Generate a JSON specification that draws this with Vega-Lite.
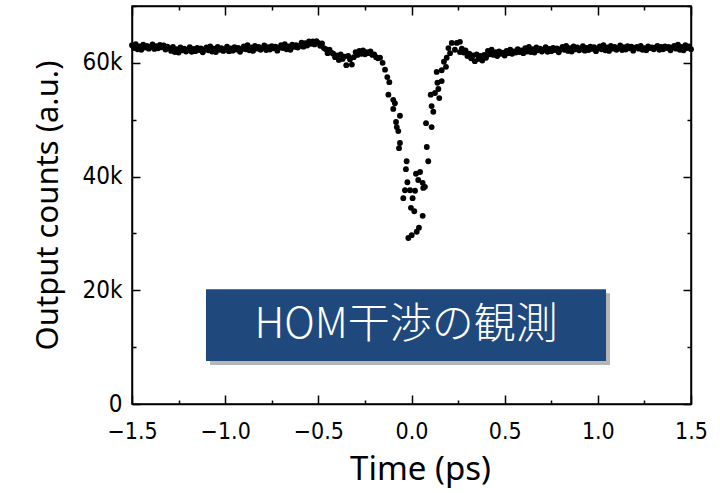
{
  "$schema": "https://vega.github.io/schema/vega-lite/v6.json",
  "width": 559,
  "height": 398,
  "autosize": {"type": "none"},
  "padding": {"left": 132, "top": 6, "right": 29, "bottom": 89},
  "background": "white",
  "config": {
    "view": {"stroke": "black", "strokeWidth": 1.5},
    "axis": {
      "grid": false,
      "domainColor": "black",
      "domainWidth": 1.5,
      "tickColor": "black",
      "tickWidth": 1.5,
      "labelColor": "black",
      "titleColor": "black",
      "labelFont": "DejaVu Sans Condensed, Liberation Sans",
      "labelFontSize": 23,
      "titleFont": "Noto Sans",
      "titleFontSize": 32,
      "titleFontWeight": "normal",
      "labelFlush": false,
      "labelOverlap": false,
      "labelBound": false
    }
  },
  "datasets": {
    "hom": [
      {"t":-1.50,"c":63100},{"t":-1.49,"c":62600},{"t":-1.48,"c":63300},{"t":-1.47,"c":62400},{"t":-1.46,"c":62900},{"t":-1.45,"c":62300},{"t":-1.44,"c":63200},{"t":-1.43,"c":62700},{"t":-1.42,"c":63000},{"t":-1.41,"c":62500},
      {"t":-1.40,"c":62800},{"t":-1.39,"c":63250},{"t":-1.38,"c":62450},{"t":-1.37,"c":62950},{"t":-1.36,"c":62550},{"t":-1.35,"c":63150},{"t":-1.34,"c":62750},{"t":-1.33,"c":63050},{"t":-1.32,"c":62350},{"t":-1.31,"c":62850},
      {"t":-1.30,"c":62600},{"t":-1.29,"c":62100},{"t":-1.28,"c":62800},{"t":-1.27,"c":61900},{"t":-1.26,"c":62400},{"t":-1.25,"c":61800},{"t":-1.24,"c":62700},{"t":-1.23,"c":62200},{"t":-1.22,"c":62500},{"t":-1.21,"c":62000},
      {"t":-1.20,"c":62300},{"t":-1.19,"c":62750},{"t":-1.18,"c":61950},{"t":-1.17,"c":62450},{"t":-1.16,"c":62050},{"t":-1.15,"c":62650},{"t":-1.14,"c":62250},{"t":-1.13,"c":62550},{"t":-1.12,"c":61850},{"t":-1.11,"c":62350},
      {"t":-1.10,"c":62700},{"t":-1.09,"c":62200},{"t":-1.08,"c":62900},{"t":-1.07,"c":62000},{"t":-1.06,"c":62500},{"t":-1.05,"c":61900},{"t":-1.04,"c":62800},{"t":-1.03,"c":62300},{"t":-1.02,"c":62600},{"t":-1.01,"c":62100},
      {"t":-1.00,"c":62400},{"t":-0.99,"c":62850},{"t":-0.98,"c":62050},{"t":-0.97,"c":62550},{"t":-0.96,"c":62150},{"t":-0.95,"c":62750},{"t":-0.94,"c":62350},{"t":-0.93,"c":62650},{"t":-0.92,"c":61950},{"t":-0.91,"c":62450},
      {"t":-0.90,"c":62900},{"t":-0.89,"c":62400},{"t":-0.88,"c":63100},{"t":-0.87,"c":62200},{"t":-0.86,"c":62700},{"t":-0.85,"c":62100},{"t":-0.84,"c":63000},{"t":-0.83,"c":62500},{"t":-0.82,"c":62800},{"t":-0.81,"c":62300},
      {"t":-0.80,"c":62600},{"t":-0.79,"c":63050},{"t":-0.78,"c":62250},{"t":-0.77,"c":62750},{"t":-0.76,"c":62350},{"t":-0.75,"c":62950},{"t":-0.74,"c":62550},{"t":-0.73,"c":62850},{"t":-0.72,"c":62150},{"t":-0.71,"c":62650},
      {"t":-0.70,"c":63100},{"t":-0.69,"c":62600},{"t":-0.68,"c":63300},{"t":-0.67,"c":62400},{"t":-0.66,"c":62900},{"t":-0.65,"c":62300},{"t":-0.64,"c":63200},{"t":-0.63,"c":62800},{"t":-0.62,"c":63100},{"t":-0.61,"c":62700},
      {"t":-0.60,"c":63000},{"t":-0.59,"c":63550},{"t":-0.58,"c":62850},{"t":-0.57,"c":63450},{"t":-0.56,"c":63050},{"t":-0.55,"c":63750},{"t":-0.54,"c":63350},{"t":-0.53,"c":63750},{"t":-0.52,"c":63250},{"t":-0.51,"c":63800},
      {"t":-0.50,"c":63500},{"t":-0.49,"c":63000},{"t":-0.48,"c":63400},{"t":-0.47,"c":62600},{"t":-0.46,"c":62400},{"t":-0.45,"c":61700},{"t":-0.44,"c":62300},{"t":-0.43,"c":61800},{"t":-0.42,"c":61600},{"t":-0.41,"c":61000},
      {"t":-0.40,"c":61300},{"t":-0.39,"c":60500},{"t":-0.38,"c":61500},{"t":-0.37,"c":60700},{"t":-0.36,"c":61100},{"t":-0.35,"c":59600},{"t":-0.34,"c":61200},{"t":-0.33,"c":60600},{"t":-0.32,"c":59700},{"t":-0.31,"c":61000},
      {"t":-0.30,"c":61900},{"t":-0.29,"c":61400},{"t":-0.28,"c":62100},{"t":-0.27,"c":61600},{"t":-0.26,"c":62200},{"t":-0.25,"c":61500},{"t":-0.24,"c":61900},{"t":-0.23,"c":61700},{"t":-0.22,"c":62000},{"t":-0.21,"c":61400},
      {"t":-0.20,"c":61500},{"t":-0.19,"c":61000},{"t":-0.18,"c":60800},
      {"t":-0.169,"c":60900},{"t":-0.155,"c":60000},{"t":-0.142,"c":58800},{"t":-0.130,"c":57500},{"t":-0.124,"c":54400},{"t":-0.119,"c":56600},
      {"t":-0.098,"c":53500},{"t":-0.098,"c":51900},{"t":-0.089,"c":52900},{"t":-0.083,"c":49600},{"t":-0.079,"c":48700},{"t":-0.071,"c":48000},
      {"t":-0.067,"c":45000},{"t":-0.062,"c":50700},{"t":-0.062,"c":45900},{"t":-0.044,"c":36200},{"t":-0.035,"c":37600},{"t":-0.030,"c":41300},
      {"t":-0.026,"c":42700},{"t":-0.022,"c":39000},{"t":-0.017,"c":29200},{"t":-0.008,"c":37600},{"t":-0.003,"c":34500},{"t":0.001,"c":29700},
      {"t":0.006,"c":36200},{"t":0.015,"c":33900},{"t":0.019,"c":37500},{"t":0.024,"c":40500},{"t":0.028,"c":30300},{"t":0.036,"c":39400},
      {"t":0.040,"c":31000},{"t":0.046,"c":40800},{"t":0.060,"c":33100},{"t":0.060,"c":38900},{"t":0.063,"c":38000},{"t":0.072,"c":38200},
      {"t":0.078,"c":49400},{"t":0.082,"c":45200},{"t":0.090,"c":42700},{"t":0.103,"c":54400},{"t":0.108,"c":48700},{"t":0.108,"c":52400},
      {"t":0.117,"c":51400},{"t":0.126,"c":54700},{"t":0.135,"c":58400},{"t":0.139,"c":56500},{"t":0.144,"c":55400},{"t":0.149,"c":53800},
      {"t":0.162,"c":56800},{"t":0.162,"c":58700},{"t":0.174,"c":60200},{"t":0.185,"c":59300},{"t":0.189,"c":60900},{"t":0.198,"c":62600},
      {"t":0.207,"c":61700},{"t":0.216,"c":63500},{"t":0.233,"c":62300},{"t":0.243,"c":63500},{"t":0.260,"c":63700},{"t":0.260,"c":61900},
      {"t":0.27,"c":62500},{"t":0.28,"c":61800},{"t":0.29,"c":62200},{"t":0.30,"c":61200},{"t":0.31,"c":61600},{"t":0.32,"c":60800},{"t":0.33,"c":61300},{"t":0.34,"c":60300},{"t":0.35,"c":61500},{"t":0.36,"c":60700},
      {"t":0.37,"c":61200},{"t":0.38,"c":60400},{"t":0.39,"c":61400},{"t":0.40,"c":60900},
      {"t":0.41,"c":62100},{"t":0.42,"c":61500},{"t":0.43,"c":62300},{"t":0.44,"c":61400},{"t":0.45,"c":61900},{"t":0.46,"c":61200},{"t":0.47,"c":62000},{"t":0.48,"c":61600},{"t":0.49,"c":61800},{"t":0.50,"c":61300},
      {"t":0.51,"c":62100},{"t":0.52,"c":61700},{"t":0.53,"c":62300},{"t":0.54,"c":61600},{"t":0.55,"c":62000},{"t":0.56,"c":61800},{"t":0.57,"c":62400},{"t":0.58,"c":61900},{"t":0.59,"c":62200},{"t":0.60,"c":61700},
      {"t":0.61,"c":62600},{"t":0.62,"c":62000},{"t":0.63,"c":62800},{"t":0.64,"c":61900},{"t":0.65,"c":62400},{"t":0.66,"c":61800},{"t":0.67,"c":62700},{"t":0.68,"c":62200},{"t":0.69,"c":62500},{"t":0.70,"c":62000},
      {"t":0.71,"c":62300},{"t":0.72,"c":62750},{"t":0.73,"c":61950},{"t":0.74,"c":62450},{"t":0.75,"c":62050},{"t":0.76,"c":62650},{"t":0.77,"c":62250},{"t":0.78,"c":62550},{"t":0.79,"c":61850},{"t":0.80,"c":62350},
      {"t":0.81,"c":62800},{"t":0.82,"c":62300},{"t":0.83,"c":63000},{"t":0.84,"c":62100},{"t":0.85,"c":62600},{"t":0.86,"c":62000},{"t":0.87,"c":62900},{"t":0.88,"c":62400},{"t":0.89,"c":62700},{"t":0.90,"c":62200},
      {"t":0.91,"c":62500},{"t":0.92,"c":62950},{"t":0.93,"c":62150},{"t":0.94,"c":62650},{"t":0.95,"c":62250},{"t":0.96,"c":62850},{"t":0.97,"c":62450},{"t":0.98,"c":62750},{"t":0.99,"c":62050},{"t":1.00,"c":62550},
      {"t":1.01,"c":62900},{"t":1.02,"c":62400},{"t":1.03,"c":63100},{"t":1.04,"c":62200},{"t":1.05,"c":62700},{"t":1.06,"c":62100},{"t":1.07,"c":63000},{"t":1.08,"c":62500},{"t":1.09,"c":62800},{"t":1.10,"c":62300},
      {"t":1.11,"c":62600},{"t":1.12,"c":63050},{"t":1.13,"c":62250},{"t":1.14,"c":62750},{"t":1.15,"c":62350},{"t":1.16,"c":62950},{"t":1.17,"c":62550},{"t":1.18,"c":62850},{"t":1.19,"c":62150},{"t":1.20,"c":62650},
      {"t":1.21,"c":62800},{"t":1.22,"c":62500},{"t":1.23,"c":63000},{"t":1.24,"c":62300},{"t":1.25,"c":62600},{"t":1.26,"c":62200},{"t":1.27,"c":62900},{"t":1.28,"c":62600},{"t":1.29,"c":62700},{"t":1.30,"c":62400},
      {"t":1.31,"c":62700},{"t":1.32,"c":63000},{"t":1.33,"c":62300},{"t":1.34,"c":62800},{"t":1.35,"c":62400},{"t":1.36,"c":62900},{"t":1.37,"c":62600},{"t":1.38,"c":62800},{"t":1.39,"c":62200},{"t":1.40,"c":62700},
      {"t":1.41,"c":63000},{"t":1.42,"c":62500},{"t":1.43,"c":63200},{"t":1.44,"c":62300},{"t":1.45,"c":62800},{"t":1.46,"c":62200},{"t":1.47,"c":63100},{"t":1.48,"c":62600},{"t":1.49,"c":62900},{"t":1.50,"c":62400}
    ]
  },
  "layer": [
    {
      "data": {"name": "hom"},
      "mark": {"type": "point", "filled": true, "color": "black", "opacity": 1, "size": 34},
      "encoding": {
        "x": {
          "field": "t", "type": "quantitative",
          "scale": {"domain": [-1.5, 1.5], "nice": false, "zero": false},
          "axis": {
            "orient": "bottom",
            "title": "Time (ps)",
            "titleFontSize": 33,
            "titleX": 288,
            "titleY": 75,
            "titleAlign": "center",
            "titleBaseline": "alphabetic",
            "values": [-1.5,-1.25,-1.0,-0.75,-0.5,-0.25,0,0.25,0.5,0.75,1.0,1.25,1.5],
            "format": ".1f",
            "labelExpr": "abs(datum.value*2 - round(datum.value*2)) < 0.001 ? datum.label : ''",
            "tickSize": {"condition": {"test": "abs(datum.value*2 - round(datum.value*2)) < 0.001", "value": -9}, "value": -4},
            "labelPadding": 25
          }
        },
        "y": {
          "field": "c", "type": "quantitative",
          "scale": {"domain": [0, 70000], "nice": false, "zero": true},
          "axis": {
            "orient": "left",
            "title": "Output counts (a.u.)",
            "titleFontSize": 31,
            "titleX": -75,
            "titleY": 199,
            "titleAlign": "center",
            "titleBaseline": "alphabetic",
            "values": [0,10000,20000,30000,40000,50000,60000,70000],
            "format": "~s",
            "labelFontSize": 24,
            "labelExpr": "datum.value == 0 ? '0' : ((datum.value % 20000 == 0 && datum.value < 70000) ? datum.label : '')",
            "tickSize": {"condition": {"test": "datum.value % 20000 == 0", "value": -8}, "value": -4},
            "labelPadding": 18
          }
        }
      }
    },
    {
      "data": {"name": "hom"},
      "mark": {"type": "point", "filled": true, "opacity": 0, "size": 1},
      "encoding": {
        "x": {
          "field": "t", "type": "quantitative",
          "scale": {"domain": [-1.5, 1.5], "nice": false, "zero": false},
          "axis": {
            "orient": "top", "title": null, "labels": false,
            "values": [-1.5,-1.25,-1.0,-0.75,-0.5,-0.25,0,0.25,0.5,0.75,1.0,1.25,1.5],
            "tickSize": {"condition": {"test": "abs(datum.value*2 - round(datum.value*2)) < 0.001", "value": -9}, "value": -4}
          }
        },
        "y": {
          "field": "c", "type": "quantitative",
          "scale": {"domain": [0, 70000], "nice": false, "zero": true},
          "axis": {
            "orient": "right", "title": null, "labels": false,
            "values": [0,10000,20000,30000,40000,50000,60000,70000],
            "tickSize": {"condition": {"test": "datum.value % 20000 == 0", "value": -8}, "value": -4}
          }
        }
      }
    },
    {
      "data": {"values": [{"label": "HOM干渉の観測"}]},
      "mark": {"type": "rect", "color": "#7a7a7a", "opacity": 0.55, "xOffset": 4, "x2Offset": 4, "yOffset": 4, "y2Offset": 4},
      "encoding": {
        "x": {"datum": -1.103, "type": "quantitative", "scale": {"domain": [-1.5, 1.5], "nice": false, "zero": false}, "axis": null},
        "x2": {"datum": 1.044},
        "y": {"datum": 7560, "type": "quantitative", "scale": {"domain": [0, 70000], "nice": false, "zero": true}, "axis": null},
        "y2": {"datum": 20200}
      }
    },
    {
      "data": {"values": [{"label": "HOM干渉の観測"}]},
      "mark": {"type": "rect", "color": "#1f497d", "opacity": 1},
      "encoding": {
        "x": {"datum": -1.103, "type": "quantitative", "scale": {"domain": [-1.5, 1.5], "nice": false, "zero": false}, "axis": null},
        "x2": {"datum": 1.044},
        "y": {"datum": 7560, "type": "quantitative", "scale": {"domain": [0, 70000], "nice": false, "zero": true}, "axis": null},
        "y2": {"datum": 20200}
      }
    },
    {
      "data": {"values": [{"label": "HOM干渉の観測"}]},
      "mark": {"type": "text", "color": "white", "font": "Noto Sans CJK JP", "fontSize": 42, "fontWeight": 300, "align": "center", "baseline": "middle"},
      "encoding": {
        "x": {"datum": -0.029, "type": "quantitative", "scale": {"domain": [-1.5, 1.5], "nice": false, "zero": false}, "axis": null},
        "y": {"datum": 13900, "type": "quantitative", "scale": {"domain": [0, 70000], "nice": false, "zero": true}, "axis": null},
        "text": {"field": "label"}
      }
    }
  ],
  "resolve": {"axis": {"x": "independent", "y": "independent"}}
}
